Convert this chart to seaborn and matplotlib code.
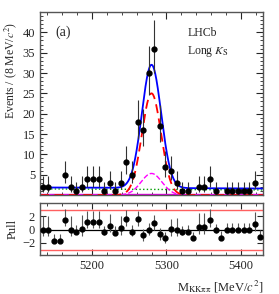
import numpy as np
import matplotlib
matplotlib.use("Agg")
import matplotlib.pyplot as plt
import seaborn as sns
from matplotlib.ticker import MultipleLocator

# --- data ---
x_lo, x_hi = 5130, 5430
bin_width = 7.5
counts = [2, 2, 0, 0, 5, 2, 1, 2, 4, 4, 4, 1, 3, 1, 3, 8, 5, 18, 16, 30,
          36, 17, 7, 6, 3, 1, 1, 0, 2, 2, 4, 1, 0, 1, 1, 1, 1, 1, 3, 0]
pulls = [0.0, 0.0, -1.7, -1.7, 1.5, 0.0, -0.3, 0.1, 1.2, 1.2, 1.2, -0.4, 0.6, -0.5,
         0.2, 1.6, -0.3, 1.6, -0.85, 0.0, 1.0, -0.7, -1.3, 0.1, 0.0, -0.4, -0.3,
         -1.3, 0.4, 0.4, 1.4, -0.1, -1.2, 0.0, 0.0, 0.0, 0.0, 0.0, 0.8, -1.1]

# fit components (events per bin)
mass_peak = 5280.0
sig_height, sig_width = 25.0, 12.8
peak_bkg_height, peak_bkg_width = 5.3, 14.0
comb_left, comb_right = 1.5, 1.25
flat_bkg = 0.35

centers = x_lo + bin_width * (np.arange(len(counts)) + 0.5)
n = np.array(counts, dtype=float)

# Poisson error bars, Wilson-Hilferty approximation
n1 = np.maximum(n, 1)
lower = np.where(n > 0, n * (1 - 1 / (9 * n1) - 1 / (3 * np.sqrt(n1))) ** 3, 0)
upper = (n + 1) * (1 - 1 / (9 * (n + 1)) + 1 / (3 * np.sqrt(n + 1))) ** 3
err_lo = n - lower
err_hi = upper - n

m = np.linspace(x_lo, x_hi, 800)
signal = sig_height * np.exp(-0.5 * ((m - mass_peak) / sig_width) ** 2)
peaking = peak_bkg_height * np.exp(-0.5 * ((m - mass_peak) / peak_bkg_width) ** 2)
comb = comb_left + (comb_right - comb_left) * (m - x_lo) / (x_hi - x_lo)
flat = np.full_like(m, flat_bkg)
total = signal + peaking + comb + flat

# pull error bars from data errors
fit_at_bins = np.interp(centers, m, total)
ref = np.where(n < fit_at_bins, err_hi, err_lo)
ref = np.where(ref > 0, ref, 1)
p_lo = err_lo / ref
p_hi = err_hi / ref

sns.set_theme(style="ticks")
plt.rcParams['font.family'] = ['Liberation Serif', 'DejaVu Serif']
plt.rcParams['mathtext.fontset'] = 'stix'
plt.rcParams['xtick.direction'] = 'in'
plt.rcParams['ytick.direction'] = 'in'

fig = plt.figure(figsize=(2.79, 2.94), dpi=100)
ax = fig.add_axes([0.1434, 0.3367, 0.7993, 0.6225])
axp = fig.add_axes([0.1434, 0.1327, 0.7993, 0.1768])

sns.lineplot(x=m, y=flat, ax=ax, color='#e000e0', lw=1.0)
sns.lineplot(x=m, y=comb, ax=ax, color='#00a000', lw=1.0, linestyle=':')
sns.lineplot(x=m, y=peaking, ax=ax, color='#ff00ff', lw=1.0, linestyle='--')
sns.lineplot(x=m, y=signal, ax=ax, color='red', lw=1.3, linestyle=(0, (5, 3)))
sns.lineplot(x=m, y=total, ax=ax, color='blue', lw=1.3)

show = n > 0
ax.errorbar(centers[show], n[show], yerr=[err_lo[show], err_hi[show]], fmt='o',
            color='black', ecolor='#333333', ms=3.5, elinewidth=0.8, capsize=0, zorder=5)

ax.set_xlim(x_lo, x_hi)
ax.set_ylim(0, 45)
ax.set_yticks(range(5, 45, 5))
ax.yaxis.set_minor_locator(MultipleLocator(1))
ax.xaxis.set_major_locator(MultipleLocator(100))
ax.xaxis.set_minor_locator(MultipleLocator(20))
ax.tick_params(which='both', top=True, right=True, labelbottom=False, labelsize=9)
ax.tick_params(which='major', length=5, width=0.8)
ax.tick_params(which='minor', length=2.5, width=0.6)
ax.set_ylabel('Events / (8 MeV/$c^2$)', fontsize=8.5, labelpad=1)
ax.yaxis.set_label_coords(-0.095, 0.68)
ax.text(0.07, 0.87, '(a)', transform=ax.transAxes, fontsize=10)
ax.text(0.66, 0.87, 'LHCb', transform=ax.transAxes, fontsize=8.5)
ax.text(0.66, 0.77, 'Long $K_{\\rm S}$', transform=ax.transAxes, fontsize=8.5)

axp.axhline(3, color='#ff6060', lw=1.0)
axp.axhline(-3, color='#ff6060', lw=1.0)
axp.axhline(0, color='black', lw=0.9)
axp.errorbar(centers, pulls, yerr=[p_lo, p_hi], fmt='o', color='black', ecolor='#555555',
             ms=3.5, elinewidth=0.8, capsize=0, zorder=5)
axp.set_xlim(x_lo, x_hi)
axp.set_ylim(-3.8, 4.0)
axp.set_yticks([-2, 0, 2])
axp.xaxis.set_major_locator(MultipleLocator(100))
axp.xaxis.set_minor_locator(MultipleLocator(20))
axp.tick_params(which='both', top=True, right=True, labelsize=9)
axp.tick_params(which='major', length=4, width=0.8)
axp.tick_params(which='minor', length=2, width=0.6)
axp.set_ylabel('Pull', fontsize=9, labelpad=1)
axp.yaxis.set_label_coords(-0.095, 0.5)
axp.set_xlabel('M$_{\\rm KK\\pi\\pi}$ [MeV/$c^2$]', fontsize=9, labelpad=0)
axp.xaxis.set_label_coords(1.0, -0.45)
axp.xaxis.label.set_horizontalalignment('right')

for a in (ax, axp):
    for s in a.spines.values():
        s.set_linewidth(1.0)
        s.set_color('#555555')

fig.savefig('out.png', dpi=100)
